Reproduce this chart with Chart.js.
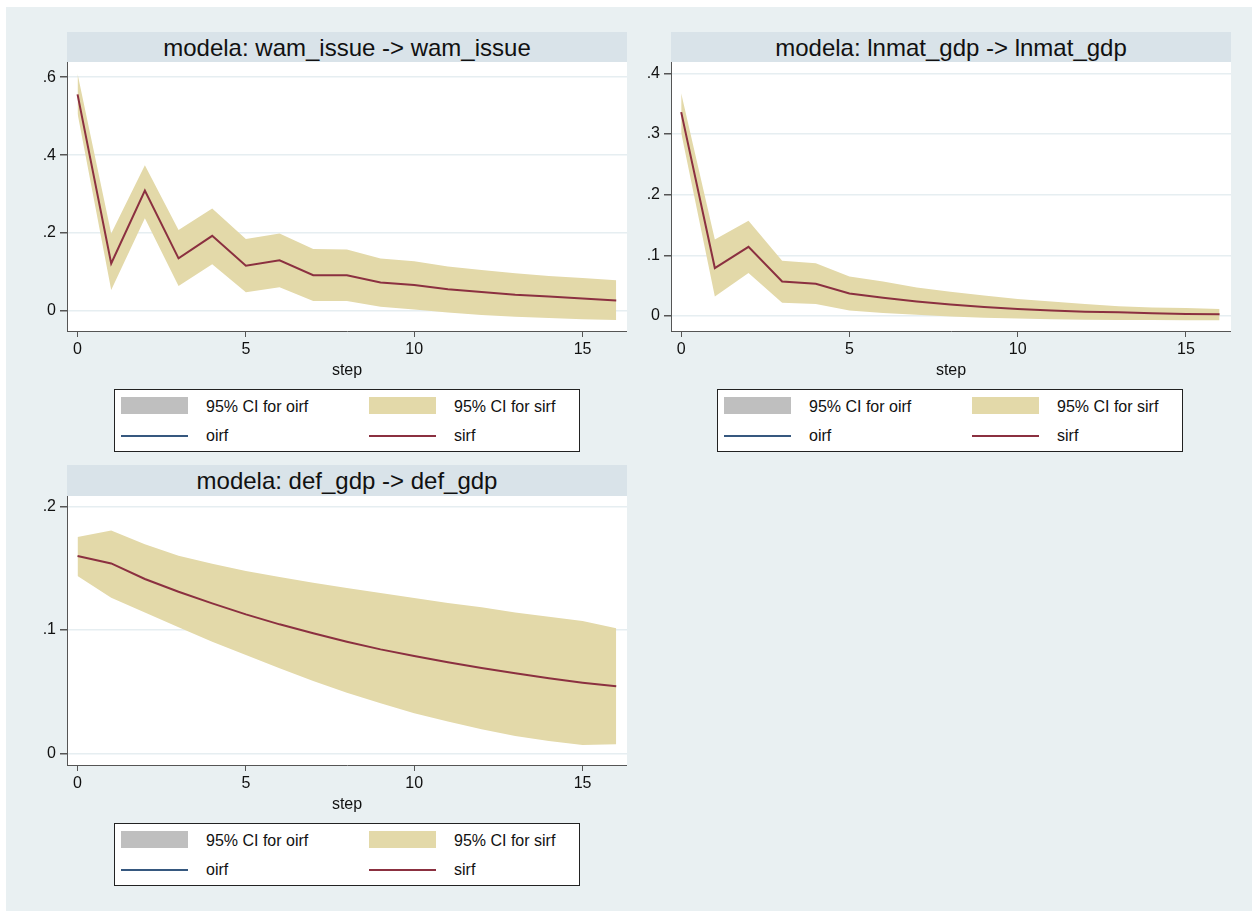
<!DOCTYPE html>
<html>
<head>
<meta charset="utf-8">
<script src="https://cdn.jsdelivr.net/npm/chart.js@4.4.0/dist/chart.umd.min.js"></script>
<style>
  body { margin: 0; background: #fff; font-family: "Liberation Sans", Arial, sans-serif; }
  #page { position: absolute; left: 6px; top: 7px; width: 1246px; height: 904px; background: #e9f0f2; }
  .band { position: absolute; width: 560px; background: #d9e3e9; color: #111; font-size: 24px; text-align: center; }
  canvas { position: absolute; }
  .legend { position: absolute; width: 464px; height: 61px; background: #fff; border: 1px solid #222; }
  .legend .sw { position: absolute; top: 7px; width: 67px; height: 17px; }
  .legend .ln { position: absolute; top: 45px; width: 67px; height: 2px; }
  .legend .tx { position: absolute; font-size: 16px; line-height: 19px; color: #111; white-space: nowrap; }
</style>
</head>
<body>
<div id="page"></div>

<div class="band" style="left:67px;top:32px;height:30px;line-height:31px">modela: wam_issue -&gt; wam_issue</div>
<div class="band" style="left:671px;top:32px;height:30px;line-height:31px">modela: lnmat_gdp -&gt; lnmat_gdp</div>
<div class="band" style="left:67px;top:465px;height:31px;line-height:32px">modela: def_gdp -&gt; def_gdp</div>

<canvas id="c-wam" width="607" height="321" style="left:20px;top:62px"></canvas>
<canvas id="c-lnmat" width="607" height="321" style="left:624px;top:62px"></canvas>
<canvas id="c-def" width="607" height="321" style="left:20px;top:496px"></canvas>

<div id="legends"></div>

<script>
// steps of the impulse response
const steps = [0, 1, 2, 3, 4, 5, 6, 7, 8, 9, 10, 11, 12, 13, 14, 15, 16];
const xTicks = [0, 5, 10, 15];

// modela: wam_issue -> wam_issue
const wamSirf  = [0.556, 0.122, 0.309, 0.135, 0.193, 0.116, 0.130, 0.092, 0.092, 0.073, 0.067, 0.056, 0.049, 0.042, 0.037, 0.032, 0.027];
const wamUpper = [0.609, 0.199, 0.374, 0.208, 0.263, 0.185, 0.199, 0.159, 0.158, 0.135, 0.128, 0.114, 0.105, 0.097, 0.090, 0.085, 0.079];
const wamLower = [0.507, 0.054, 0.238, 0.064, 0.120, 0.048, 0.061, 0.026, 0.026, 0.011, 0.004, -0.004, -0.010, -0.015, -0.018, -0.021, -0.023];
const wamTicks = [0, 0.2, 0.4, 0.6];

// modela: lnmat_gdp -> lnmat_gdp
const lnmatSirf  = [0.336, 0.079, 0.114, 0.057, 0.053, 0.037, 0.030, 0.024, 0.019, 0.015, 0.0115, 0.009, 0.007, 0.006, 0.0045, 0.0035, 0.003];
const lnmatUpper = [0.367, 0.126, 0.157, 0.091, 0.087, 0.065, 0.057, 0.047, 0.040, 0.034, 0.028, 0.024, 0.020, 0.016, 0.014, 0.013, 0.0115];
const lnmatLower = [0.302, 0.032, 0.071, 0.022, 0.020, 0.009, 0.005, 0.002, -0.001, -0.003, -0.004, -0.0055, -0.006, -0.0066, -0.0066, -0.007, -0.007];
const lnmatTicks = [0, 0.1, 0.2, 0.3, 0.4];

// modela: def_gdp -> def_gdp
const defSirf  = [0.160, 0.154, 0.1414, 0.131, 0.1216, 0.1127, 0.1046, 0.0973, 0.0905, 0.0843, 0.0789, 0.0738, 0.0692, 0.0649, 0.0608, 0.0573, 0.0543];
const defUpper = [0.1754, 0.1808, 0.1695, 0.1603, 0.1538, 0.1478, 0.143, 0.1384, 0.134, 0.130, 0.126, 0.1219, 0.1184, 0.1143, 0.1108, 0.1073, 0.1014];
const defLower = [0.1438, 0.1262, 0.1143, 0.1022, 0.0905, 0.0797, 0.0689, 0.0586, 0.0492, 0.0405, 0.0324, 0.0257, 0.0195, 0.0141, 0.010, 0.0068, 0.0073];
const defTicks = [0, 0.1, 0.2];

const FONT = '"Liberation Sans", Arial, sans-serif';
const BAND = '#e3d9a9';
const SIRF = '#8b3040';
const OIRF = '#36587f';
const AXIS = '#555';
const GRID = '#e6eef1';

// white plot region like stata's plotregion
const plotBg = {
  id: 'plotBg',
  beforeDraw(chart) {
    const { ctx, chartArea: a } = chart;
    ctx.save();
    ctx.fillStyle = '#fff';
    ctx.fillRect(a.left, a.top, a.right - a.left, a.bottom - a.top);
    ctx.restore();
  }
};

const stataLabel = v => v === 0 ? '0' : String(v).replace(/^0\./, '.');

function drawPanel(id, sirf, lower, upper, yTicks, yMin, yMax, xMin, xMax) {
  const pts = arr => steps.map((s, i) => ({ x: s, y: arr[i] }));
  new Chart(document.getElementById(id), {
    type: 'line',
    data: {
      datasets: [
        { label: 'lower', data: pts(lower), borderWidth: 0, borderColor: 'transparent', pointRadius: 0, fill: false, order: 2 },
        { label: 'upper', data: pts(upper), borderWidth: 0, borderColor: 'transparent', pointRadius: 0, fill: '-1', backgroundColor: BAND, order: 2 },
        { label: 'sirf', data: pts(sirf), borderColor: SIRF, borderWidth: 2, pointRadius: 0, fill: false, tension: 0, order: 0 }
      ]
    },
    options: {
      responsive: false, animation: false, devicePixelRatio: 1,
      layout: { padding: 0 },
      plugins: { legend: { display: false }, tooltip: { enabled: false } },
      scales: {
        x: {
          type: 'linear', min: xMin, max: xMax,
          afterBuildTicks: s => { s.ticks = xTicks.map(v => ({ value: v })); },
          afterFit: s => { s.height = 52; s.paddingLeft = 0; s.paddingRight = 0; },
          grid: { drawOnChartArea: false, tickLength: 6, tickColor: AXIS },
          border: { color: AXIS, width: 1 },
          ticks: { color: '#111', font: { size: 16, family: FONT }, padding: 3, maxRotation: 0 },
          title: { display: true, text: 'step', color: '#111', font: { size: 16, family: FONT }, padding: { top: 0, bottom: 3 } }
        },
        y: {
          min: yMin, max: yMax,
          afterBuildTicks: s => { s.ticks = yTicks.map(v => ({ value: v })); },
          afterFit: s => { s.width = 47; s.paddingTop = 0; s.paddingBottom = 0; },
          grid: { color: GRID, lineWidth: 1.5, tickColor: AXIS, tickLength: 7 },
          border: { color: AXIS, width: 1 },
          ticks: { color: '#111', font: { size: 16, family: FONT }, padding: 4, callback: stataLabel }
        }
      }
    },
    plugins: [plotBg]
  });
}

drawPanel('c-wam', wamSirf, wamLower, wamUpper, wamTicks, -0.0513, 0.639, -0.313, 16.32);
drawPanel('c-lnmat', lnmatSirf, lnmatLower, lnmatUpper, lnmatTicks, -0.0247, 0.4186, -0.303, 16.34);
drawPanel('c-def', defSirf, defLower, defUpper, defTicks, -0.0095, 0.2087, -0.313, 16.32);

// legends (same for all three panels)
const legendPos = [[114, 389], [717, 389], [114, 823]];
document.getElementById('legends').innerHTML = legendPos.map(([l, t]) => `
  <div class="legend" style="left:${l}px;top:${t}px">
    <div class="sw" style="left:6px;background:#bfbfbf"></div>
    <div class="tx" style="left:91px;top:7px">95% CI for oirf</div>
    <div class="sw" style="left:254px;background:${BAND}"></div>
    <div class="tx" style="left:339px;top:7px">95% CI for sirf</div>
    <div class="ln" style="left:6px;background:${OIRF}"></div>
    <div class="tx" style="left:91px;top:36px">oirf</div>
    <div class="ln" style="left:254px;background:${SIRF}"></div>
    <div class="tx" style="left:339px;top:36px">sirf</div>
  </div>
`).join('');
</script>
</body>
</html>
